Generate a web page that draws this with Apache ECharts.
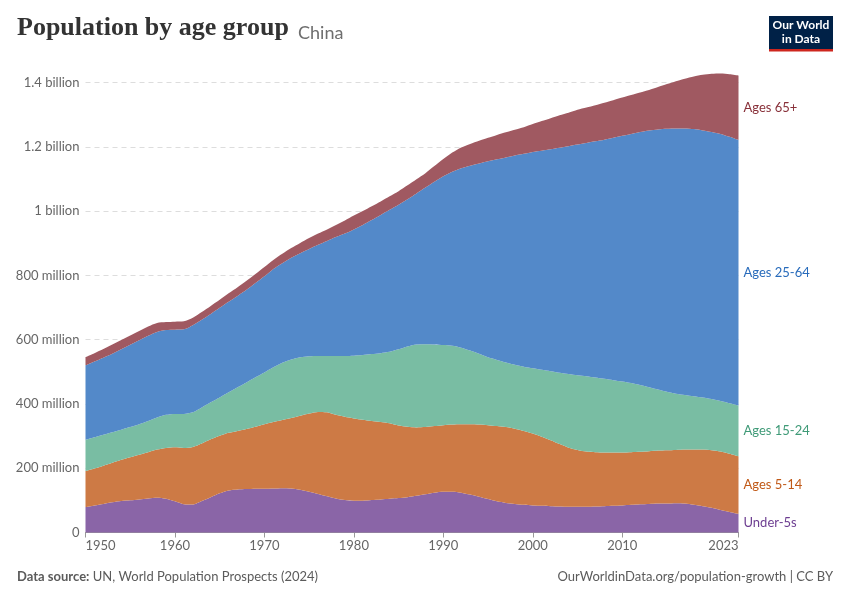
<!DOCTYPE html>
<html>
<head>
<meta charset="utf-8">
<script src="https://cdn.jsdelivr.net/npm/echarts@6/dist/echarts.min.js"></script>
<style>
html,body{margin:0;padding:0;background:#fff;}
#chart{width:850px;height:600px;}
</style>
</head>
<body>
<div id="chart"></div>
<script>
// Years 1950..2023
const years = [];
for (let y = 1950; y <= 2023; y++) years.push(String(y));

// Population (millions)
const under5 = [79,84,89,94,98,100,103,106,108,105,97,88,87,98,110,122,131,134,135,136,136,137,138,137,133,127,120,113,106,101,99,99,101,103,105,107,110,114,119,124,127,127,124,118,111,104,97,92,89,86,84,83,82,81,80,80,80,81,82,83,84,86,88,89,90,90,91,90,86,82,77,70,64,58];
const ages5to14 = [112,115,119,123,128,134,139,144,150,158,168,175,179,179,180,179,179,182,187,193,201,207,212,219,230,243,255,261,260,259,256,252,246,241,235,226,219,213,209,207,207,209,213,219,225,230,234,236,234,230,224,215,205,194,184,177,172,169,167,166,165,164,163,164,165,166,166,168,172,176,179,182,181,179];
const ages15to24 = [97,97,96,95,94,94,95,97,100,103,104,106,108,112,115,119,126,136,145,154,161,170,178,182,182,178,174,175,183,189,195,201,208,214,222,237,250,258,258,254,249,245,238,229,220,211,206,201,199,200,203,208,215,222,229,232,234,232,229,225,221,215,208,199,190,182,175,170,166,162,159,157,157,158];
const ages25to64 = [232,236,240,244,250,256,261,265,266,264,262,263,271,273,275,279,282,284,288,293,299,306,310,317,324,334,346,358,370,381,393,405,417,430,442,450,458,470,487,506,525,541,558,575,592,610,624,638,651,662,673,682,690,700,709,718,726,735,744,754,764,775,787,799,809,818,825,829,831,831,831,831,829,826];
const ages65plus = [26,26,27,29,29,29,29,29,28,25,25,25,23,24,25,25,26,27,28,28,29,28,29,30,32,34,35,36,38,41,43,43,43,42,42,42,43,44,45,49,54,60,65,68,71,73,76,78,80,83,87,92,97,101,104,108,110,112,115,117,119,121,123,126,132,139,147,155,164,173,181,188,195,201];

const yTickLabels = {0:'0',200:'200 million',400:'400 million',600:'600 million',800:'800 million',1000:'1 billion',1200:'1.2 billion',1400:'1.4 billion'};
const xTickYears = ['1950','1960','1970','1980','1990','2000','2010','2023'];

const seriesDefs = [
  {name:'Under-5s', data:under5, fill:'#8A65A7', text:'#6D3E91'},
  {name:'Ages 5-14', data:ages5to14, fill:'#CD7A45', text:'#C05917'},
  {name:'Ages 15-24', data:ages15to24, fill:'#79BDA3', text:'#3F9A77'},
  {name:'Ages 25-64', data:ages25to64, fill:'#5389C9', text:'#286BBB'},
  {name:'Ages 65+', data:ages65plus, fill:'#A05961', text:'#883039'}
];

const chart = echarts.init(document.getElementById('chart'), null, {renderer:'canvas'});
const showTick = (i, v) => xTickYears.indexOf(String(v)) >= 0;

chart.setOption({
  animation:false,
  backgroundColor:'#fff',
  grid:{left:85.5, right:111.5, top:82.5, bottom:67.5, containLabel:false},
  xAxis:{
    type:'category', data:years, boundaryGap:false,
    axisLine:{show:true, lineStyle:{color:'#999'}},
    axisTick:{show:true, interval:showTick, length:5, lineStyle:{color:'#999'}},
    axisLabel:{interval:showTick, color:'#666', fontFamily:'Lato', fontSize:13, margin:7,
      alignMinLabel:'left', alignMaxLabel:'right'},
    splitLine:{show:false}
  },
  yAxis:{
    type:'value', min:0, max:1400, interval:200,
    axisLine:{show:false}, axisTick:{show:false},
    axisLabel:{color:'#666', fontFamily:'Lato', fontSize:13, margin:6,
      formatter:v => yTickLabels[v] !== undefined ? yTickLabels[v] : ''},
    splitLine:{show:true, lineStyle:{color:'#ddd', type:[5,4], width:1}}
  },
  series: seriesDefs.map(s => ({
    name:s.name, type:'line', stack:'total', data:s.data,
    symbol:'none', smooth:0.25, clip:false,
    lineStyle:{width:0, color:s.fill},
    itemStyle:{color:s.fill},
    areaStyle:{color:s.fill, opacity:1}
  })),
  graphic:[
    {type:'text', left:17, top:15, style:{text:'Population by age group', font:'bold 26px "Liberation Serif", serif', fill:'#333'}},
    {type:'text', left:298, top:24, style:{text:'China', font:'18px Lato, sans-serif', fill:'#6e6e6e'}},
    {type:'group', left:769, top:16, children:[
      {type:'rect', shape:{x:0,y:0,width:64,height:35}, style:{fill:'#002147'}},
      {type:'rect', shape:{x:0,y:33,width:64,height:2.5}, style:{fill:'#CE261E'}},
      {type:'text', x:32, y:9, style:{text:'Our World', font:'bold 12px Lato, sans-serif', fill:'#fff', align:'center', verticalAlign:'middle'}},
      {type:'text', x:32, y:23, style:{text:'in Data', font:'bold 12px Lato, sans-serif', fill:'#fff', align:'center', verticalAlign:'middle'}}
    ]},
    {type:'text', left:17, top:570, style:{
      text:'{b|Data source:} UN, World Population Prospects (2024)',
      rich:{b:{fontWeight:'bold', fontFamily:'Lato', fontSize:13, fill:'#5b5b5b'}},
      font:'13px Lato, sans-serif', fill:'#5b5b5b'}},
    {type:'text', right:17, top:570, style:{text:'OurWorldinData.org/population-growth | CC BY', font:'13px Lato, sans-serif', fill:'#5b5b5b'}}
  ]
});

// Band labels at the right end, placed at mid of each band through the chart's scales
const last = years.length - 1;
let cum = 0;
const labelGraphics = [];
seriesDefs.forEach(s => {
  const v = s.data[last];
  const mid = cum + v / 2;
  cum += v;
  const p = chart.convertToPixel({gridIndex:0}, [years[last], mid]);
  labelGraphics.push({type:'text', x:p[0] + 5, y:p[1], style:{text:s.name, font:'13px Lato, sans-serif', fill:s.text, verticalAlign:'middle'}});
});
const opt = chart.getOption();
chart.setOption({graphic: opt.graphic[0].elements.concat(labelGraphics)});
</script>
</body>
</html>
